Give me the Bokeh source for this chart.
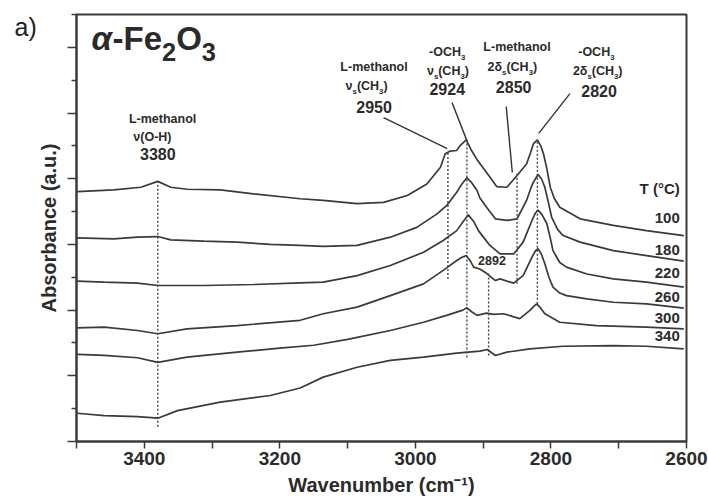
from bokeh.plotting import figure
from bokeh.models import ColumnDataSource, Range1d, FixedTicker, Label
from bokeh.embed import file_html
from bokeh.resources import INLINE
from bokeh.core.properties import value

FONT = "Liberation Sans"
INK = "#2b2b2b"
LINE = "#3a3a3a"

# ---------------- data (wavenumber, cm-1 / absorbance, a.u.) ----------------
temps = ["100", "180", "220", "260", "300", "340"]

wn_100 = [3499, 3445, 3405, 3380, 3361, 3337, 3288, 3239, 3170, 3136, 3086, 3047, 3012, 2983,
          2963, 2956, 2949, 2939, 2934, 2925, 2917, 2909, 2895, 2880, 2865, 2850, 2836, 2830,
          2826, 2820, 2815, 2811, 2806, 2801, 2795, 2787, 2757, 2708, 2659, 2604]
ab_100 = [7.61, 7.66, 7.74, 7.92, 7.74, 7.68, 7.66, 7.54, 7.39, 7.34, 7.24, 7.28, 7.49, 7.84,
          8.35, 8.76, 8.84, 8.86, 9.01, 9.18, 8.85, 8.58, 8.19, 7.76, 7.74, 8.10, 8.45, 8.80,
          9.06, 9.18, 9.00, 8.76, 8.30, 7.74, 7.40, 7.13, 6.78, 6.58, 6.42, 6.27]

wn_180 = [3499, 3445, 3410, 3380, 3361, 3312, 3263, 3214, 3170, 3136, 3086, 3037, 2998, 2968,
          2954, 2939, 2931, 2924, 2917, 2909, 2905, 2895, 2882, 2865, 2850, 2836, 2829, 2826,
          2819, 2814, 2809, 2804, 2799, 2790, 2782, 2757, 2708, 2659, 2604]
ab_180 = [6.20, 6.17, 6.22, 6.24, 6.14, 6.10, 6.07, 6.00, 5.97, 5.94, 5.97, 6.22, 6.52, 6.93,
          7.18, 7.59, 7.85, 8.03, 7.88, 7.64, 7.42, 7.13, 6.78, 6.73, 6.78, 7.34, 7.75, 7.89,
          8.13, 8.00, 7.74, 7.30, 6.83, 6.45, 6.27, 6.07, 5.81, 5.66, 5.49]

wn_220 = [3499, 3459, 3410, 3380, 3312, 3238, 3170, 3136, 3086, 3037, 2988, 2959, 2939, 2930,
          2922, 2914, 2907, 2895, 2890, 2875, 2855, 2841, 2828, 2823, 2819, 2813, 2806, 2801,
          2797, 2787, 2777, 2747, 2708, 2659, 2604]
ab_220 = [4.88, 4.85, 4.82, 4.75, 4.75, 4.78, 4.83, 4.85, 5.05, 5.36, 5.76, 6.12, 6.42, 6.68,
          6.90, 6.70, 6.42, 6.10, 5.97, 5.71, 5.71, 6.07, 6.73, 6.95, 7.05, 6.90, 6.63, 6.20,
          5.81, 5.45, 5.31, 5.10, 4.95, 4.85, 4.70]

wn_260 = [3499, 3459, 3410, 3380, 3337, 3263, 3170, 3136, 3086, 3037, 2988, 2959, 2939, 2932,
          2925, 2919, 2914, 2905, 2895, 2882, 2875, 2855, 2841, 2828, 2823, 2819, 2814, 2809,
          2803, 2797, 2787, 2777, 2747, 2708, 2659, 2604]
ab_260 = [3.46, 3.48, 3.38, 3.28, 3.43, 3.53, 3.69, 3.89, 4.09, 4.44, 4.80, 5.21, 5.51, 5.60,
          5.66, 5.50, 5.31, 5.25, 5.12, 4.90, 4.95, 4.82, 5.05, 5.61, 5.80, 5.87, 5.70, 5.41,
          5.00, 4.70, 4.52, 4.44, 4.34, 4.24, 4.19, 4.06]

wn_300 = [3499, 3459, 3410, 3380, 3337, 3263, 3200, 3150, 3100, 3037, 2988, 2954, 2930, 2924,
          2917, 2909, 2895, 2885, 2870, 2846, 2831, 2825, 2821, 2815, 2809, 2787, 2733, 2659,
          2604]
ab_300 = [2.65, 2.62, 2.55, 2.41, 2.57, 2.72, 2.84, 2.93, 3.11, 3.38, 3.63, 3.84, 4.00, 4.07,
          3.95, 3.84, 3.91, 3.87, 3.89, 3.74, 3.99, 4.12, 4.19, 4.06, 3.89, 3.63, 3.53, 3.48,
          3.43]

wn_340 = [3499, 3459, 3410, 3380, 3351, 3288, 3214, 3170, 3136, 3086, 3037, 2988, 2939, 2905,
          2894, 2882, 2865, 2831, 2782, 2708, 2659, 2604]
ab_340 = [0.86, 0.79, 0.76, 0.71, 0.94, 1.20, 1.40, 1.63, 1.96, 2.26, 2.47, 2.57, 2.69, 2.75,
          2.80, 2.62, 2.72, 2.82, 2.90, 2.92, 2.90, 2.82]

# dotted peak markers
mark_wn = [3380, 2952, 2924, 2892, 2850, 2820]
mark_top = [7.92, 8.85, 9.18, 5.15, 8.18, 9.18]
mark_bot = [0.45, 4.95, 2.56, 2.62, 4.80, 4.19]

# leader lines from labels to peaks
lead_x0 = [3047, 2946, 2866, 2772]
lead_y0 = [9.86, 10.32, 10.20, 10.59]
lead_x1 = [2953, 2924, 2857, 2818]
lead_y1 = [8.92, 9.16, 8.19, 9.38]

# annotation text lines: markup ("_x" = subscript), wavenumber, baseline, size
ann_text = ["L-methanol", "ν(O-H)", "3380",
            "L-methanol", "ν_s(CH_3)", "2950",
            "-OCH_3", "ν_s(CH_3)", "2924",
            "L-methanol", "2δ_s(CH_3)", "2850",
            "-OCH_3", "2δ_s(CH_3)", "2820",
            "2892"]
ann_x = [3373, 3388, 3380,
         3061, 3072, 3061,
         2953, 2952, 2953,
         2850, 2857, 2855,
         2733, 2731, 2729,
         2887]
ann_y = [9.63, 9.09, 8.52,
         11.22, 10.64, 9.95,
         11.67, 11.10, 10.50,
         11.83, 11.22, 10.56,
         11.67, 11.10, 10.44,
         5.33]
ann_size = [12.5, 12.5, 16,
            12.5, 12.5, 16,
            12.5, 12.5, 16,
            12.5, 12.5, 16,
            12.5, 12.5, 16,
            12.5]

# temperature legend (right aligned)
leg_text = ["T (°C)"] + temps
leg_y = [7.47, 6.59, 5.60, 4.90, 4.19, 3.55, 3.00]
leg_x = 2610

x_major = [3400, 3200, 3000, 2800, 2600]
x_minor = [3500, 3300, 3100, 2900, 2700]
y_major = [0, 2, 4, 6, 8, 10, 12]
y_minor = [1, 3, 5, 7, 9, 11, 13]

# ---------------- text layout helper ----------------
W = {' ': .278, '(': .333, ')': .333, '-': .333, '.': .278, 'A': .722, 'C': .722, 'F': .611,
     'H': .722, 'L': .611, 'O': .778, 'T': .611, 'a': .556, 'e': .556, 'h': .611, 'l': .278,
     'm': .889, 'n': .611, 'o': .611, 's': .556, 't': .333, 'ν': .556, 'δ': .611, 'α': .64,
     '°': .40}
BASE_FIX = 0.48   # em shift so that the given y is the alphabetic baseline


def tw(s, size):
    return sum(W.get(c, .556) for c in s) * size


def parse(s):
    segs, buf, i = [], "", 0
    while i < len(s):
        if s[i] == "_":
            if buf:
                segs.append((buf, False))
                buf = ""
            segs.append((s[i + 1], True))
            i += 2
        else:
            buf += s[i]
            i += 1
    if buf:
        segs.append((buf, False))
    return segs


rows = dict(x=[], y=[], text=[], xo=[], yo=[], fs=[], st=[])


def rich(markup, x, y, size, align="center", sub_scale=0.62, sub_dy=0.28, style="bold",
         pieces=None):
    segs = pieces if pieces is not None else [(t, sub, style) for t, sub in parse(markup)]
    widths = []
    for t, sub, stl in segs:
        sz = size * sub_scale if sub else size
        widths.append(tw(t, sz))
    total = sum(widths)
    start = {"center": -total / 2, "right": -total, "left": 0}[align]
    cur = start
    for (t, sub, stl), w in zip(segs, widths):
        sz = size * sub_scale if sub else size
        rows["x"].append(x)
        rows["y"].append(y)
        rows["text"].append(t)
        rows["xo"].append(cur)
        rows["yo"].append((size * sub_dy if sub else 0) - BASE_FIX * sz)
        rows["fs"].append(f"{sz:.1f}px")
        rows["st"].append(stl)
        cur += w


for t, x, y, s in zip(ann_text, ann_x, ann_y, ann_size):
    rich(t, x, y, s)
for t, y in zip(leg_text, leg_y):
    rich(t, leg_x, y, 15, align="right")
# panel title  α-Fe2O3
rich("", 3478, 11.78, 33, align="left", sub_scale=0.77, sub_dy=0.28,
     pieces=[("α", False, "bold italic"), ("-Fe", False, "bold"), ("2", True, "bold"),
             ("O", False, "bold"), ("3", True, "bold")])

# ---------------- figure ----------------
p = figure(width=708, height=499, output_backend="svg", toolbar_location=None,
           x_range=Range1d(3500, 2600), y_range=Range1d(0, 13),
           min_border_left=76, min_border_right=22, min_border_top=14, min_border_bottom=58)
p.xgrid.visible = False
p.ygrid.visible = False
p.outline_line_color = LINE
p.outline_line_width = 2
p.background_fill_color = "white"

for wn, ab in [(wn_100, ab_100), (wn_180, ab_180), (wn_220, ab_220), (wn_260, ab_260),
               (wn_300, ab_300), (wn_340, ab_340)]:
    p.line(wn, ab, line_color=LINE, line_width=1.7)

p.segment(x0=mark_wn, y0=mark_bot, x1=mark_wn, y1=mark_top, line_color="#444444",
          line_width=1.4, line_dash="2 2")
p.segment(x0=lead_x0, y0=lead_y0, x1=lead_x1, y1=lead_y1, line_color="#333333", line_width=1.4)

src = ColumnDataSource(rows)
p.text(x="x", y="y", text="text", x_offset="xo", y_offset="yo", text_font_size="fs",
       text_font_style="st", text_font=value(FONT), text_color=INK, text_align="left",
       text_baseline="alphabetic", source=src)

# axes
xa = p.xaxis[0]
xa.ticker = FixedTicker(ticks=x_major, minor_ticks=x_minor)
xa.axis_label = "Wavenumber (cm⁻¹)"
ya = p.yaxis[0]
ya.ticker = FixedTicker(ticks=y_major, minor_ticks=y_minor)
ya.axis_label = "Absorbance (a.u.)"
ya.major_label_overrides = {t: "" for t in y_major}
ya.major_label_text_font_size = "1px"
ya.major_label_standoff = 0
ya.major_tick_out = 9
ya.minor_tick_out = 5
ya.axis_label_standoff = 8
xa.major_tick_out = 7
xa.minor_tick_out = 7
xa.major_label_standoff = 3
xa.axis_label_standoff = 6
for ax in (xa, ya):
    ax.axis_line_color = LINE
    ax.axis_line_width = 2
    ax.major_tick_line_color = LINE
    ax.minor_tick_line_color = LINE
    ax.major_tick_line_width = 1.5
    ax.minor_tick_line_width = 1.5
    ax.major_tick_in = 0
    ax.minor_tick_in = 0
    ax.axis_label_text_font = FONT
    ax.axis_label_text_font_style = "bold"
    ax.axis_label_text_font_size = "20px"
    ax.axis_label_text_color = INK
    ax.major_label_text_font = FONT
    ax.major_label_text_font_style = "bold"
    ax.major_label_text_color = INK
xa.major_label_text_font_size = "19px"

# panel letter, placed in the left side panel so that it is not clipped by the frame
p.add_layout(Label(x=2, y=415, x_units="screen", y_units="screen", text="a)", text_font=FONT,
                   text_font_size="25px", text_color="#222222", text_baseline="alphabetic"),
             "left")

open("out.html", "w").write(file_html(p, INLINE))
